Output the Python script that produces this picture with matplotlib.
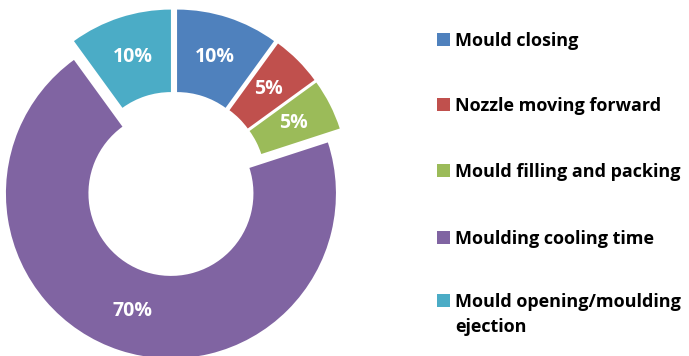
import matplotlib.pyplot as plt
from matplotlib.patches import Rectangle

labels = ['Mould closing', 'Nozzle moving forward', 'Mould filling and packing',
          'Moulding cooling time', 'Mould opening/moulding\nejection']
values = [10, 5, 5, 70, 10]
colors = ['#4F81BD', '#C0504D', '#9BBB59', '#8064A2', '#4BACC6']

plt.rcParams['font.family'] = ['Open Sans', 'DejaVu Sans']

W, H = 689, 356
fig = plt.figure(figsize=(W / 100, H / 100), dpi=100)

# pie axes: centre (174, 184) px from top-left, outer radius 165 px
cx, cy, R, S = 174, 184, 165, 200
ax = fig.add_axes([(cx - S) / W, (H - cy - S) / H, 2 * S / W, 2 * S / H])

wedges, texts, autotexts = ax.pie(
    values, colors=colors, startangle=90, counterclock=False,
    explode=[0.06] * len(values), radius=1,
    wedgeprops=dict(width=0.5, linewidth=0),
    autopct='%d%%', pctdistance=0.75,
    textprops=dict(color='white', fontsize=14, fontweight='bold'))
for w in wedges:
    w.set_clip_on(False)
# pie() resets the limits, so set them afterwards
ax.set_xlim(-S / R, S / R)
ax.set_ylim(-S / R, S / R)
ax.axis('off')

# legend on the right (baselines)
ys = [46, 111, 177, 244, 307]
for lab, col, y in zip(labels, colors, ys):
    fig.patches.append(Rectangle((437 / W, 1 - y / H), 13 / W, 13 / H,
                                 transform=fig.transFigure, facecolor=col,
                                 edgecolor='none'))
    fig.text(455 / W, 1 - y / H, lab.split('\n')[0], fontsize=13,
             fontweight='bold', va='baseline', ha='left', color='black')
    if '\n' in lab:
        fig.text(455 / W, 1 - (y + 25) / H, lab.split('\n')[1], fontsize=13,
                 fontweight='bold', va='baseline', ha='left', color='black')

fig.savefig('out.png', dpi=100)
